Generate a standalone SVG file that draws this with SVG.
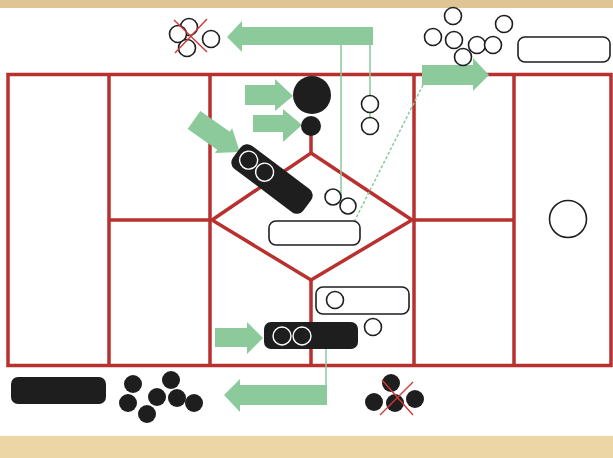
<svg xmlns="http://www.w3.org/2000/svg" width="613" height="458" viewBox="0 0 613 458">
<style>
.grid{fill:none;stroke:#b8312f;stroke-width:3.5;stroke-linejoin:miter}
.arr{fill:#8cc99b}
.ln{stroke:#8cc99b;stroke-width:1.5;fill:none}
.dash{stroke:#8cc99b;stroke-width:1.5;fill:none;stroke-dasharray:3 2}
.oc{fill:#fff;stroke:#1e1e1e;stroke-width:1.6}
.bc{fill:#1e1e1e}
.wc{fill:none;stroke:#fff;stroke-width:1.4}
.x{stroke:#d03a3a;stroke-width:1.4}
</style>
<rect x="0" y="0" width="613" height="458" fill="#fff"/>
<rect x="0" y="0" width="613" height="8" fill="#dfc494"/>
<rect x="0" y="436" width="613" height="22" fill="#edd6a6"/>

<g id="grid">
<rect class="grid" x="8" y="74.5" width="603" height="291"/>
<path class="grid" d="M109 74.5V365.5M210 74.5V365.5M414 74.5V365.5M514 74.5V365.5M109 220H210M414 220H514"/>
<path class="grid" d="M311 153L412 220L311 280L212 220Z"/>
<path class="grid" d="M311 126V153M311 280V365.5"/>
</g>

<g id="connectors">
<path class="ln" d="M341 45V199M370 45V122"/>
<path class="dash" d="M423 85L349 232"/>
<path class="ln" d="M326 340V386"/>
</g>

<g id="arrow-top-left">
<path class="arr" d="M373 27V45H242V52L227 37L242 21V27Z"/>
</g>
<g id="arrow-top-right">
<path class="arr" d="M422 65H473V58L489 75L473 91V85H422Z"/>
</g>
<g id="arrow-big-circle">
<path class="arr" d="M245 85H275V79L293 96L275 111V105H245Z"/>
</g>
<g id="arrow-small-circle">
<path class="arr" d="M253 115H283V109L302 125L283 142V132H253Z"/>
</g>
<g id="arrow-diagonal">
<path class="arr" transform="translate(194,120) rotate(35)" d="M0 -11H36V-15L56 0L36 15V11H0Z"/>
</g>
<g id="arrow-bottom-right">
<path class="arr" d="M215 328H247V322L263 338L247 354V347H215Z"/>
</g>
<g id="arrow-bottom-left">
<path class="arr" d="M327 385V405H240V412L224 395L240 379V385Z"/>
</g>

<g id="crossed-top">
<circle class="oc" cx="189" cy="27" r="8.5"/>
<circle class="oc" cx="178" cy="34" r="8.5"/>
<circle class="oc" cx="187" cy="48" r="8.5"/>
<circle class="oc" cx="211" cy="39" r="8.5"/>
<path class="x" d="M174 20L207 52M207 19L175 53"/>
</g>

<g id="cluster-top-right">
<circle class="oc" cx="453" cy="16" r="8.5"/>
<circle class="oc" cx="433" cy="37" r="8.5"/>
<circle class="oc" cx="463" cy="57" r="8.5"/>
<circle class="oc" cx="454" cy="40" r="8.5"/>
<circle class="oc" cx="477" cy="45" r="8.5"/>
<circle class="oc" cx="493" cy="45" r="8.5"/>
<circle class="oc" cx="504" cy="24" r="8.5"/>
</g>
<g id="capsule-top-right">
<rect class="oc" x="518" y="37" width="92" height="25" rx="7"/>
</g>

<g id="black-circles">
<circle class="bc" cx="312" cy="95" r="19"/>
<circle class="bc" cx="311" cy="126" r="10"/>
</g>

<g id="black-capsule-tilted">
<g transform="translate(272,179) rotate(37)">
<rect class="bc" x="-44" y="-14.5" width="88" height="29" rx="8"/>
<circle class="wc" cx="-30" cy="-1" r="9"/>
<circle class="wc" cx="-10" cy="-1" r="9"/>
</g>
</g>

<g id="circles-upper-cell">
<circle class="oc" cx="370" cy="104" r="8.5"/>
<circle class="oc" cx="370" cy="126" r="8.5"/>
</g>

<g id="circles-diamond">
<circle class="oc" cx="333" cy="197" r="8"/>
<circle class="oc" cx="348" cy="206" r="8"/>
</g>
<g id="capsule-diamond">
<rect class="oc" x="269" y="221" width="91" height="24" rx="7"/>
</g>

<g id="capsule-lower">
<rect class="oc" x="316" y="287" width="93" height="27" rx="7"/>
<circle class="oc" cx="335" cy="300" r="8.5"/>
</g>
<g id="circle-lower">
<circle class="oc" cx="373" cy="327" r="8.5"/>
</g>

<g id="black-capsule-bottom">
<rect class="bc" x="264" y="322" width="94" height="27" rx="7"/>
<circle class="wc" cx="282" cy="336" r="9"/>
<circle class="wc" cx="302" cy="336" r="9"/>
</g>

<g id="right-circle">
<circle class="oc" cx="568" cy="219" r="18.5"/>
</g>

<g id="black-capsule-left">
<rect class="bc" x="11" y="377" width="95" height="27" rx="7"/>
</g>

<g id="black-cluster">
<circle class="bc" cx="133" cy="384" r="9"/>
<circle class="bc" cx="128" cy="403" r="9"/>
<circle class="bc" cx="147" cy="414" r="9"/>
<circle class="bc" cx="157" cy="397" r="9"/>
<circle class="bc" cx="171" cy="380" r="9"/>
<circle class="bc" cx="177" cy="398" r="9"/>
<circle class="bc" cx="194" cy="403" r="9"/>
</g>

<g id="crossed-bottom">
<circle class="bc" cx="391" cy="383" r="9"/>
<circle class="bc" cx="374" cy="402" r="9"/>
<circle class="bc" cx="395" cy="403" r="9"/>
<circle class="bc" cx="415" cy="399" r="9"/>
<path class="x" d="M380 415L413 382M382 380L413 415"/>
</g>
</svg>
